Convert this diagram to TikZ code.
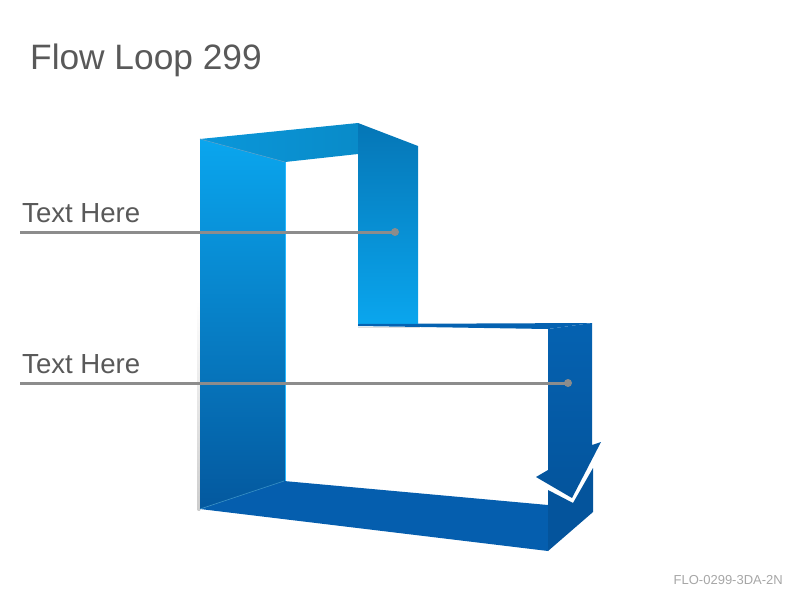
\documentclass[tikz,border=0pt]{standalone}
\usepackage{fontspec}
\setmainfont{Liberation Sans}
\definecolor{txtgray}{HTML}{595959}
\definecolor{linegray}{HTML}{8C8C8C}
\definecolor{footgray}{HTML}{A6A6A6}
\definecolor{blueA}{HTML}{0AA6EE}
\definecolor{blueB}{HTML}{04589E}
\definecolor{blueC}{HTML}{0576B6}
\definecolor{blueD}{HTML}{0562B1}
\definecolor{blueE}{HTML}{04549C}
\definecolor{blueF}{HTML}{055EAE}
\definecolor{blueG}{HTML}{0A97DA}
\definecolor{edgecyan}{HTML}{26B8FF}
\tikzset{
  label text/.style={anchor=base west,inner sep=0pt,text=txtgray,font=\fontsize{27.6}{28}\selectfont},
  leader/.style={draw=linegray,line width=3pt},
  dot/.style={circle,fill=linegray,inner sep=0pt,minimum size=8pt}
}
\begin{document}
\begin{tikzpicture}[x=1pt,y=-1pt]
\useasboundingbox (0,0) rectangle (800,600);

\node[anchor=base west,inner sep=0pt,text=txtgray,font=\fontsize{35.3}{36}\selectfont] (title) at (30,69) {Flow Loop 299};

% loop faces
\shade[top color=white,bottom color=black!20] (197.5,300) rectangle (200,510);
\shade[top color=blueA,bottom color=blueB] (200,139) -- (285,162) -- (285,481) -- (200,509) -- cycle;
\draw[edgecyan,line width=1pt] (285,162) -- (285,481);
\shade[left color=blueG,right color=blueG!92!black] (200,139) -- (358,123) -- (358,154) -- (285,162) -- cycle;
\draw[blueC!70,line width=0.6pt] (200,139) -- (285,162);
\shade[top color=blueC,bottom color=blueA] (358,123) -- (418,146) -- (418,325) -- (358,325) -- cycle;
\draw[black!12,line width=1pt] (358,327) -- (420,327);
\fill[blueD] (358,324) -- (592,323) -- (548,329) -- (358,326) -- cycle;
\fill[blueF] (284,481) -- (548,505) -- (548,551) -- (200,509) -- cycle;
\draw[blueC!80,line width=0.6pt] (200,509) -- (284,481);
\fill[blueE] (548,490) -- (573,503) -- (593,468) -- (593,512) -- (548,551) -- cycle;
\shade[top color=blueD,bottom color=blueE] (548,329) -- (592,323) -- (592,445) -- (601,442) -- (572,498) -- (536,477) -- (548,470) -- cycle;

% labels
\node[label text] (t1) at (22,222) {Text Here};
\node[label text] (t2) at (22,373) {Text Here};
\coordinate (s1) at (20,232);
\coordinate (s2) at (20,383);
\node[dot] (d1) at (395,232) {};
\node[dot] (d2) at (568,383) {};
\draw[leader] (s1) -- (d1.center);
\draw[leader] (s2) -- (d2.center);

\node[anchor=base east,inner sep=0pt,text=footgray,font=\fontsize{13}{13}\selectfont] (code) at (783,584) {FLO-0299-3DA-2N};
\end{tikzpicture}
\end{document}
